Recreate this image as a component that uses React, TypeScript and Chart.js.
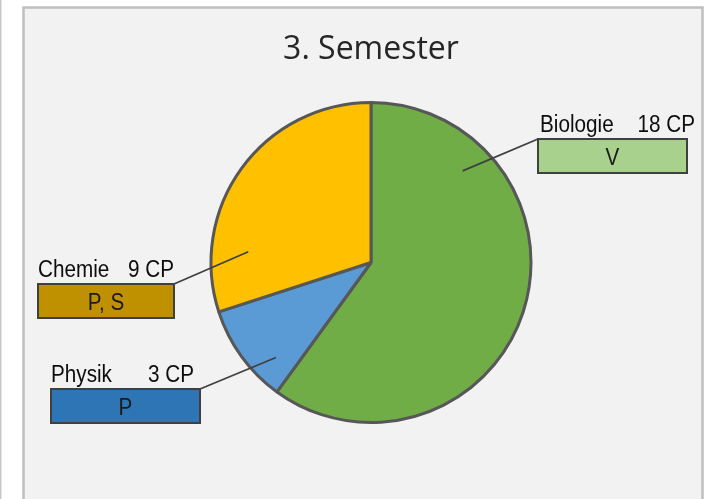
import React, { useEffect, useRef } from 'react';
import { Chart, registerables } from 'chart.js';

Chart.register(...registerables);

// ---- data ----
const titleText = '3. Semester';
const categories = ['Biologie', 'Physik', 'Chemie'];
const creditPoints = [18, 3, 9];
const courseTypes = ['V', 'P', 'P, S'];

// ---- styles ----
const sliceColors = ['#70ad47', '#5b9bd5', '#ffc000'];
const boxColors = ['#a9d18e', '#2e75b6', '#bf9000'];

// callout layout (positions only)
const callouts = [
  { box: { x: 538, y: 139, w: 149, h: 34 }, nameX: 540, cpRight: 695, corner: 'left', anchorAngle: 45, anchorR: 0.81 },
  { box: { x: 51, y: 389, w: 149, h: 34 }, nameX: 51, cpRight: 194, corner: 'right', anchorAngle: 225, anchorR: 0.84 },
  { box: { x: 38, y: 284, w: 136, h: 34 }, nameX: 38, cpRight: 174, corner: 'right', anchorAngle: 275, anchorR: 0.77 },
];

const LABEL_FONT = "23px 'Liberation Sans', Arial, sans-serif";
const BOX_FONT = "24px 'Liberation Sans', Arial, sans-serif";

function drawScaled(ctx: CanvasRenderingContext2D, text: string, x: number, y: number, align: CanvasTextAlign, sx: number) {
  ctx.save();
  ctx.translate(x, y);
  ctx.scale(sx, 1);
  ctx.textAlign = align;
  ctx.textBaseline = 'alphabetic';
  ctx.fillText(text, 0, 0);
  ctx.restore();
}

const framePlugin = {
  id: 'frame',
  beforeDraw(chart: any) {
    const ctx = chart.ctx;
    ctx.save();
    ctx.fillStyle = '#ffffff';
    ctx.fillRect(0, 0, chart.width, chart.height);
    ctx.fillStyle = '#c8c8c8';
    ctx.fillRect(0, 0, 1.5, chart.height);
    ctx.fillStyle = '#f2f2f2';
    ctx.fillRect(23, 7, 680, 520);
    ctx.strokeStyle = '#bfbfbf';
    ctx.lineWidth = 2.5;
    ctx.strokeRect(23.5, 7.5, 679, 520);
    ctx.restore();
  },
};

const calloutPlugin = {
  id: 'callouts',
  afterDatasetsDraw(chart: any) {
    const ctx = chart.ctx;
    const meta = chart.getDatasetMeta(0);
    ctx.save();
    meta.data.forEach((arc: any, i: number) => {
      const c = callouts[i];
      const { x, y, outerRadius } = arc.getProps(['x', 'y', 'outerRadius'], true);
      const th = (c.anchorAngle * Math.PI) / 180;
      const r = outerRadius * c.anchorR;
      const ax = x + r * Math.sin(th);
      const ay = y - r * Math.cos(th);
      const cx = c.corner === 'left' ? c.box.x : c.box.x + c.box.w;
      const cy = c.box.y;
      // leader line
      ctx.strokeStyle = '#404040';
      ctx.lineWidth = 1.8;
      ctx.beginPath();
      ctx.moveTo(ax, ay);
      ctx.lineTo(cx, cy);
      ctx.stroke();
      // box
      ctx.fillStyle = boxColors[i];
      ctx.fillRect(c.box.x, c.box.y, c.box.w, c.box.h);
      ctx.strokeStyle = '#404040';
      ctx.lineWidth = 2;
      ctx.strokeRect(c.box.x, c.box.y, c.box.w, c.box.h);
      // box text
      ctx.fillStyle = '#1a1a1a';
      ctx.font = BOX_FONT;
      drawScaled(ctx, courseTypes[i], c.box.x + c.box.w / 2, c.box.y + c.box.h / 2 + 9, 'center', 0.86);
      // label text
      ctx.fillStyle = '#0d0d0d';
      ctx.font = LABEL_FONT;
      drawScaled(ctx, categories[i], c.nameX, c.box.y - 6.6, 'left', 0.9);
      drawScaled(ctx, `${creditPoints[i]} CP`, c.cpRight, c.box.y - 6.6, 'right', 0.9);
    });
    ctx.restore();
  },
};

export default function App() {
  const ref = useRef<HTMLCanvasElement | null>(null);
  useEffect(() => {
    if (!ref.current) return;
    const chart = new Chart(ref.current, {
      type: 'pie',
      data: {
        labels: categories,
        datasets: [
          {
            data: creditPoints,
            backgroundColor: sliceColors,
            borderColor: '#575757',
            borderWidth: 3,
            hoverOffset: 0,
            offset: 0,
            radius: 160,
          } as any,
        ],
      },
      options: {
        responsive: false,
        animation: false,
        radius: 160,
        layout: { padding: { left: 32, right: 0, top: 0, bottom: 43.4 } },
        plugins: {
          legend: { display: false },
          tooltip: { enabled: false },
          title: {
            display: true,
            text: titleText,
            color: '#262626',
            font: { family: "'Open Sans', sans-serif", size: 32, weight: 'normal', lineHeight: 1.2 },
            padding: { top: 31, bottom: 0 },
          },
        },
      } as any,
      plugins: [framePlugin, calloutPlugin],
    });
    return () => chart.destroy();
  }, []);
  return (
    <div style={{ position: 'fixed', left: 0, top: 0, width: 710, height: 499 }}>
      <canvas ref={ref} width={710} height={499} style={{ display: 'block', width: 710, height: 499 }} />
    </div>
  );
}
